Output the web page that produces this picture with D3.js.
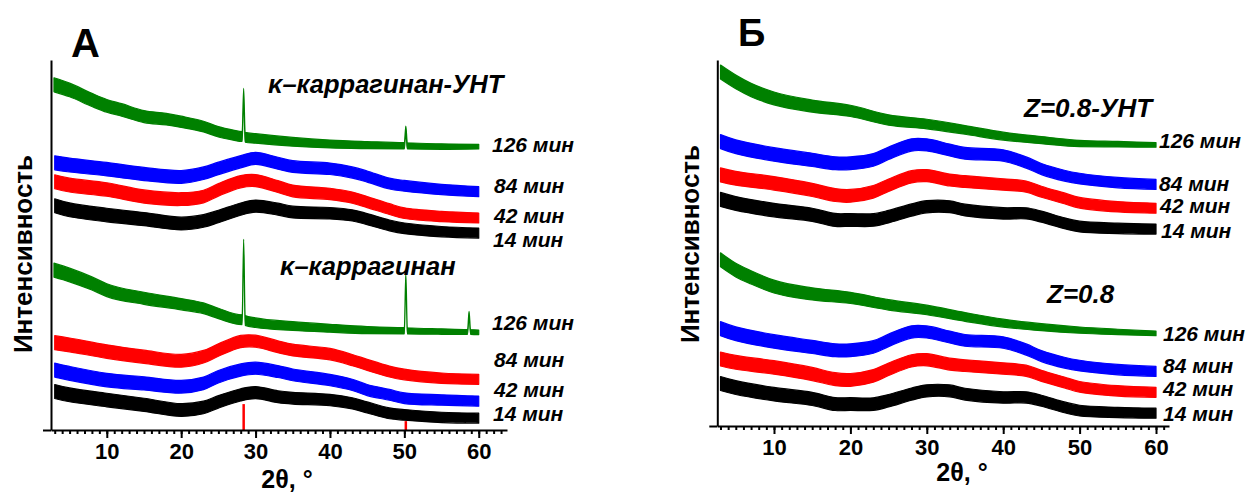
<!DOCTYPE html>
<meta charset="utf-8">
<style>
    body { margin: 0; background: #fff; }
    svg text { font-family: "Liberation Sans", Arial, sans-serif; font-weight: bold; fill: #000; }
    text.it { font-style: italic; }
    .axis path, .axis line { stroke: #000; stroke-width: 2; }
</style>
<body>
<script src="https://cdn.jsdelivr.net/npm/d3@7/dist/d3.min.js"></script>
<script>

    var width = 1250;
    var height = 494;

    // ---------- panel А : kappa-carrageenan ----------
    var thetaA = [3, 5, 10, 15, 20, 23, 25, 28, 30, 33, 35, 40, 43, 45, 48, 50, 55, 60];

    var aCntBlue84  = [72.2, 71.6, 70.5, 69.2, 68.4, 69.4, 70.7, 72.5, 73.4, 72.1, 71.2, 70.6, 69.6, 68.5, 66.6, 66.0, 65.0, 64.4];
    var aCntRed42   = [67.1, 66.2, 65.0, 63.1, 62.4, 63.1, 64.9, 67.1, 67.4, 65.8, 64.6, 63.8, 62.8, 61.6, 59.7, 58.6, 57.7, 57.3];
    var aCntBlack14 = [60.6, 59.5, 58.1, 57.0, 55.8, 56.5, 57.7, 59.7, 60.5, 59.7, 58.9, 58.6, 58.0, 57.0, 55.3, 54.5, 53.6, 53.2];

    var aCarRed84   = [23.6, 23.0, 21.2, 19.8, 18.7, 19.8, 21.6, 23.9, 24.0, 22.5, 21.6, 20.5, 18.9, 17.6, 15.8, 15.0, 14.0, 13.7];
    var aCarBlue42  = [16.2, 15.3, 13.5, 12.6, 11.7, 12.6, 14.4, 16.2, 16.7, 15.8, 14.9, 13.5, 12.2, 10.8, 9.5, 8.6, 8.1, 7.8];
    var aCarBlack14 = [10.4, 9.5, 8.1, 6.8, 5.4, 6.1, 7.6, 9.5, 10.1, 9.0, 8.6, 8.1, 7.2, 6.1, 4.5, 4.1, 3.4, 3.2];

    // 126 min curves carry the sharp KCl reflections
    var thetaACntGreen = [2.9, 5, 8, 10, 12, 15, 18, 20, 23, 25, 27, 28.2, 28.4, 28.6, 30, 35, 40, 45, 50, 50.2, 50.4, 55, 60];
    var aCntGreen126   = [93.3, 91.9, 89.2, 87.6, 86.5, 84.7, 84.0, 83.3, 82.0, 80.6, 79.7, 79.3, 91.0, 79.1, 78.8, 77.9, 77.3, 77.0, 76.8, 81.3, 76.8, 76.6, 76.6];

    var thetaACarGreen = [2.9, 5, 8, 10, 15, 20, 23, 25, 28.2, 28.4, 28.6, 30, 35, 40, 45, 50, 50.2, 50.4, 55, 58.5, 58.7, 58.9, 60];
    var aCarGreen126   = [43.2, 41.9, 39.6, 37.8, 35.6, 34.0, 32.9, 31.5, 29.8, 50.2, 29.6, 29.0, 28.1, 27.5, 27.0, 26.8, 41.4, 26.8, 26.6, 26.5, 31.4, 26.5, 26.4];

    // reference (stick) lines under panel А
    var refTheta  = [28.4, 50.2];
    var refHeight = [7.0, 2.4];

    // ---------- panel Б : Z=0.8 ----------
    var thetaB = [3, 5, 10, 15, 18, 20, 23, 25, 28, 30, 33, 35, 40, 43, 45, 48, 50, 55, 60];

    var bCntBlue84  = [77.7, 76.3, 74.2, 72.7, 71.8, 71.8, 72.7, 74.5, 76.8, 76.8, 75.4, 74.5, 73.9, 72.0, 70.2, 68.4, 67.6, 66.5, 66.0];
    var bCntRed42   = [68.6, 67.7, 66.3, 64.5, 63.1, 62.9, 64.0, 65.8, 68.1, 68.4, 67.2, 66.8, 66.0, 65.4, 64.0, 62.2, 61.0, 59.9, 59.5];
    var bCntBlack14 = [61.9, 60.8, 59.0, 57.7, 56.3, 56.3, 56.3, 57.2, 59.0, 59.9, 59.9, 59.0, 58.1, 58.1, 57.2, 55.4, 54.5, 54.0, 53.8];

    var bZBlue84  = [26.6, 25.2, 23.1, 21.6, 20.7, 20.7, 21.6, 23.4, 25.7, 25.7, 24.3, 23.4, 22.8, 20.9, 19.1, 17.3, 16.5, 15.4, 14.9];
    var bZRed42   = [18.3, 17.4, 16.0, 14.2, 12.8, 12.6, 13.7, 15.5, 17.8, 18.1, 16.9, 16.5, 15.7, 15.1, 13.7, 11.9, 10.7, 9.6, 9.2];
    var bZBlack14 = [11.6, 10.5, 8.7, 7.4, 6.0, 6.0, 6.0, 6.9, 8.7, 9.6, 9.6, 8.7, 7.8, 7.8, 6.9, 5.1, 4.2, 3.7, 3.5];

    var thetaBGreen  = [3, 5, 7, 10, 15, 20, 25, 30, 35, 40, 45, 50, 55, 60];
    var bCntGreen126 = [96.7, 94.0, 91.8, 89.5, 87.4, 86.1, 83.6, 82.5, 80.9, 79.2, 78.1, 77.2, 77.0, 76.8];
    var bZGreen126   = [45.4, 42.6, 40.6, 38.1, 36.1, 35.0, 33.1, 31.7, 29.8, 28.1, 27.0, 26.2, 25.7, 25.3];

    var majorTicks = [10, 20, 30, 40, 50, 60];
    var yTitle = "Интенсивность";
    var xTitle = "2θ, °";

    var GREEN = "#008000", BLUE = "#0000ff", RED = "#ff0000", BLACK = "#000000";

    var svg = d3.select("body").append("svg")
        .attr("width", width)
        .attr("height", height);

    function zip(xs, ys) {
        return xs.map(function (t, i) { return { t: t, v: ys[i] }; });
    }

    function drawPanel(p) {
        var x = d3.scaleLinear().domain(p.xDomain).range([p.left, p.right]);
        var y = d3.scaleLinear().domain([0, 100]).range([p.bottom, p.top]);
        var g = svg.append("g");

        // noisy traces drawn as bands so that sharp peaks stay thin
        p.series.forEach(function (s) {
            var h0 = s.sharp ? 7 : 7, h1 = s.sharp ? 2.3 : 5;
            var half = function (d) { return h0 + (h1 - h0) * (d.t - 3) / 57; };
            var area = d3.area()
                .curve(s.sharp ? d3.curveMonotoneX : d3.curveCatmullRom.alpha(0.5))
                .x(function (d) { return x(d.t); })
                .y0(function (d) { return y(d.v) + half(d); })
                .y1(function (d) { return y(d.v) - half(d); });
            g.append("path")
                .datum(zip(s.theta, s.values))
                .attr("d", area)
                .attr("fill", s.color)
                .attr("stroke", s.color)
                .attr("stroke-width", 1.2)
                .attr("stroke-linejoin", "round");
        });

        if (p.refs) {
            g.selectAll("line.ref")
                .data(zip(p.refs.theta, p.refs.height))
                .enter().append("line")
                .attr("class", "ref")
                .attr("x1", function (d) { return x(d.t); })
                .attr("x2", function (d) { return x(d.t); })
                .attr("y1", y(0))
                .attr("y2", function (d) { return y(d.v); })
                .attr("stroke", RED)
                .attr("stroke-width", 2.5);
        }

        // x axis: minor + major ticks
        g.append("g").attr("class", "axis")
            .attr("transform", "translate(0," + p.bottom + ")")
            .call(d3.axisBottom(x).tickValues(d3.range(3, Math.floor(p.xDomain[1]) + 1))
                .tickSize(4).tickSizeOuter(0).tickFormat(""))
            .selectAll(".tick line").attr("stroke-width", 1.3);

        var ax = g.append("g").attr("class", "axis")
            .attr("transform", "translate(0," + p.bottom + ")")
            .call(d3.axisBottom(x).tickValues(majorTicks).tickSize(8).tickSizeOuter(0).tickPadding(5));
        ax.select(".domain").remove();
        ax.selectAll("text").style("font-size", "22px");

        // y axis: bare line with one thick tick at the origin
        var ay = g.append("g").attr("class", "axis")
            .attr("transform", "translate(" + p.left + ",0)")
            .call(d3.axisLeft(y).tickValues([0]).tickSize(8).tickSizeOuter(0).tickFormat(""));
        ay.selectAll(".tick line").attr("stroke-width", 3);

        // titles
        g.append("text")
            .attr("x", p.letter[1]).attr("y", p.letter[2])
            .style("font-size", p.letter[3] + "px")
            .text(p.letter[0]);

        g.append("text")
            .attr("transform", "translate(" + p.yTitleAt[0] + "," + p.yTitleAt[1] + ") rotate(-90)")
            .attr("text-anchor", "middle")
            .style("font-size", "26px")
            .text(yTitle);

        g.append("text")
            .attr("x", p.xTitleAt[0]).attr("y", p.xTitleAt[1])
            .attr("text-anchor", "middle")
            .style("font-size", "25px")
            .text(xTitle);

        p.labels.forEach(function (l) {
            g.append("text")
                .attr("class", "it")
                .attr("x", l[1]).attr("y", l[2])
                .style("font-size", l[3] + "px")
                .text(l[0]);
        });
    }

    drawPanel({
        left: 51, right: 507, top: 60, bottom: 430,
        xDomain: [2.5, 63.8],
        series: [
            { theta: thetaACntGreen, values: aCntGreen126, color: GREEN, sharp: true },
            { theta: thetaA, values: aCntBlue84, color: BLUE },
            { theta: thetaA, values: aCntRed42, color: RED },
            { theta: thetaA, values: aCntBlack14, color: BLACK },
            { theta: thetaACarGreen, values: aCarGreen126, color: GREEN, sharp: true },
            { theta: thetaA, values: aCarRed84, color: RED },
            { theta: thetaA, values: aCarBlue42, color: BLUE },
            { theta: thetaA, values: aCarBlack14, color: BLACK }
        ],
        refs: { theta: refTheta, height: refHeight },
        letter: ["А", 71, 57, 40],
        yTitleAt: [32, 254],
        xTitleAt: [287, 488],
        labels: [
            ["κ–каррагинан-УНТ", 268, 93, 25.5],
            ["126 мин", 492, 152, 21],
            ["84 мин", 494, 193, 21],
            ["42 мин", 494, 223, 21],
            ["14 мин", 493, 247, 21],
            ["κ–каррагинан", 280, 275, 25.5],
            ["126 мин", 492, 330, 21],
            ["84 мин", 494, 367, 21],
            ["42 мин", 494, 397, 21],
            ["14 мин", 493, 421, 21]
        ]
    });

    drawPanel({
        left: 717.3, right: 1169, top: 60, bottom: 426,
        xDomain: [2.58, 61.7],
        series: [
            { theta: thetaBGreen, values: bCntGreen126, color: GREEN, sharp: true },
            { theta: thetaB, values: bCntBlue84, color: BLUE },
            { theta: thetaB, values: bCntRed42, color: RED },
            { theta: thetaB, values: bCntBlack14, color: BLACK },
            { theta: thetaBGreen, values: bZGreen126, color: GREEN, sharp: true },
            { theta: thetaB, values: bZBlue84, color: BLUE },
            { theta: thetaB, values: bZRed42, color: RED },
            { theta: thetaB, values: bZBlack14, color: BLACK }
        ],
        letter: ["Б", 738, 46, 38],
        yTitleAt: [699, 244],
        xTitleAt: [962, 481],
        labels: [
            ["Z=0.8-УНТ", 1024, 117, 26],
            ["126 мин", 1159, 148, 21],
            ["84 мин", 1159, 191, 21],
            ["42 мин", 1160, 213, 21],
            ["14 мин", 1161, 238, 21],
            ["Z=0.8", 1047, 303, 26],
            ["126 мин", 1163, 341, 21],
            ["84 мин", 1163, 373, 21],
            ["42 мин", 1163, 396, 21],
            ["14 мин", 1163, 421, 21]
        ]
    });

</script>
</body>
</html>
